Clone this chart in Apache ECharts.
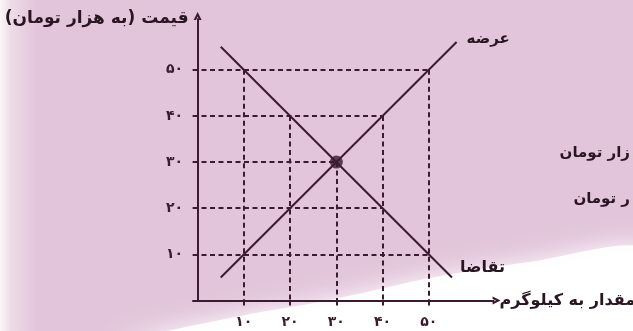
<!DOCTYPE html>
<html>
<head>
<meta charset="utf-8">
<script src="https://cdn.jsdelivr.net/npm/echarts@6/dist/echarts.min.js"></script>
<style>html,body{margin:0;padding:0;}#c{width:633px;height:331px;}</style>
</head>
<body>
<div id="c"></div>
<script>
// ---- data ----
const xTicks = [10, 20, 30, 40, 50];
const yTicks = [10, 20, 30, 40, 50];
const supply = [[5, 5], [56, 56]];
const demand = [[5, 55], [55, 5]];
const equilibrium = [[30, 30]];
const supplyPoints = [[10, 10], [20, 20], [30, 30], [40, 40], [50, 50]];
const demandPoints = [[10, 50], [20, 40], [30, 30], [40, 20], [50, 10]];
const yTitle = 'قیمت (به هزار تومان)';
const xTitle = 'مقدار به کیلوگرم';
const supplyName = 'عرضه';
const demandName = 'تقاضا';
const sideText1 = 'زار تومان';
const sideText2 = 'ر تومان';

const X_MIN = -1, X_MAX = 64, Y_MIN = 0, Y_MAX = 61;
const INK = '#3a1b31';
const TXT = '#2a1522';
const FONT = 'DejaVu Sans';

const fa = n => String(n).replace(/\d/g, d => '۰۱۲۳۴۵۶۷۸۹'[d]);

// guide (dashed) segments built from points on the curves
const allPts = supplyPoints.concat(demandPoints);
const guides = [];
yTicks.forEach(y => {
  const xs = allPts.filter(p => p[1] === y).map(p => p[0]);
  if (xs.length) guides.push([{coord: [X_MIN, y]}, {coord: [Math.max(...xs), y]}]);
});
xTicks.forEach(x => {
  const ys = allPts.filter(p => p[0] === x).map(p => p[1]);
  if (ys.length) guides.push([{coord: [x, Math.max(...ys)]}, {coord: [x, Y_MIN]}]);
});

const chevron = 'path://M0,10 L5,0 L10,10 L7,10 L5,5.6 L3,10 Z';

const chart = echarts.init(document.getElementById('c'));
chart.setOption({
  backgroundColor: '#e2c5da',
  animation: false,
  textStyle: {fontFamily: FONT},
  graphic: [
    {type: 'rect', z: -10, silent: true, shape: {x: 0, y: 0, width: 36, height: 331},
     style: {fill: new echarts.graphic.LinearGradient(0, 0, 1, 0, [
       {offset: 0, color: 'rgba(255,255,255,0.85)'},
       {offset: 0.3, color: 'rgba(255,255,255,0.4)'},
       {offset: 1, color: 'rgba(255,255,255,0)'}])}},
    {type: 'polygon', z: -9, silent: true,
     shape: {points: [[120, 345], [230, 318], [330, 300], [430, 278], [530, 262], [650, 250], [650, 345]], smooth: 0.3},
     style: {fill: 'rgba(255,255,255,0.95)', shadowBlur: 24, shadowColor: 'rgba(255,255,255,1)'}},
    {type: 'text', z: 5, silent: true, style: {text: sideText1, x: 630, y: 153, align: 'right', verticalAlign: 'middle',
     font: 'bold 15px "' + FONT + '"', fill: TXT}},
    {type: 'text', z: 5, silent: true, style: {text: sideText2, x: 630, y: 199, align: 'right', verticalAlign: 'middle',
     font: 'bold 15px "' + FONT + '"', fill: TXT}}
  ],
  grid: {left: 193, top: 19, right: 139.4, bottom: 30.5, outerBoundsMode: 'none', containLabel: false},
  xAxis: {
    type: 'value', min: X_MIN, max: X_MAX,
    name: xTitle, nameLocation: 'end', nameGap: 6,
    nameTextStyle: {color: TXT, fontSize: 16, fontWeight: 'bold', align: 'left', verticalAlign: 'middle', fontFamily: FONT},
    axisLine: {lineStyle: {color: INK, width: 2}, symbol: ['none', chevron], symbolSize: [11, 8], symbolOffset: [0, 3]},
    axisTick: {show: true, customValues: xTicks, length: 5, lineStyle: {color: INK, width: 2}},
    axisLabel: {customValues: xTicks, formatter: v => fa(v), color: INK, fontSize: 14, fontWeight: 'bold', margin: 15},
    splitLine: {show: false}
  },
  yAxis: {
    type: 'value', min: Y_MIN, max: Y_MAX,
    name: yTitle, nameLocation: 'end', nameGap: 0,
    nameTextStyle: {color: TXT, fontSize: 17, fontWeight: 'bold', align: 'right', verticalAlign: 'middle', padding: [0, 9, 0, 0], fontFamily: FONT},
    axisLine: {lineStyle: {color: INK, width: 2}, symbol: ['none', chevron], symbolSize: [11, 8], symbolOffset: [0, 3]},
    axisTick: {show: true, customValues: yTicks, length: 5, lineStyle: {color: INK, width: 2}},
    axisLabel: {customValues: yTicks, formatter: v => fa(v), color: INK, fontSize: 14, fontWeight: 'bold', margin: 10},
    splitLine: {show: false}
  },
  series: [
    {
      name: supplyName, type: 'line', data: supply, symbol: 'none',
      lineStyle: {color: INK, width: 2}, z: 3,
      endLabel: {show: true, formatter: supplyName, color: TXT, fontSize: 15, fontWeight: 'bold', offset: [2, -3], fontFamily: FONT},
      markLine: {
        silent: true, symbol: ['none', 'none'], label: {show: false},
        lineStyle: {color: INK, width: 2, type: [5, 3.5]},
        data: guides
      }
    },
    {
      name: demandName, type: 'line', data: demand, symbol: 'none',
      lineStyle: {color: INK, width: 2}, z: 3,
      endLabel: {show: true, formatter: demandName, color: TXT, fontSize: 16, fontWeight: 'bold', offset: [0, -10], fontFamily: FONT}
    },
    {
      type: 'scatter', data: equilibrium, symbol: 'circle', symbolSize: 13,
      itemStyle: {color: INK}, z: 4
    }
  ]
});
</script>
</body>
</html>
